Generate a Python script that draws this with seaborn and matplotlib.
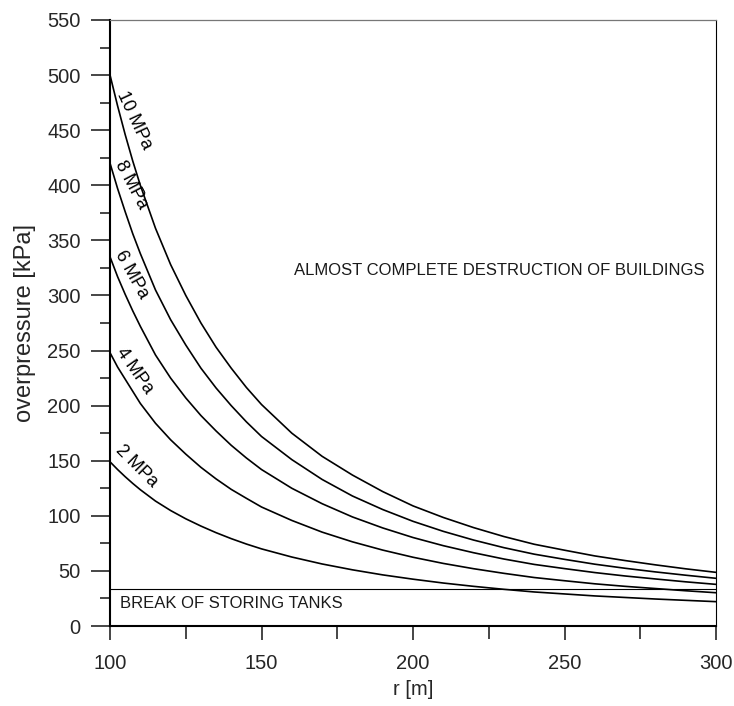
import numpy as np
import pandas as pd
import matplotlib
matplotlib.use("Agg")
import matplotlib.pyplot as plt
from matplotlib.ticker import MultipleLocator
import seaborn as sns

# distance r [m]
r = [100, 102.5, 105, 107.5, 110, 115, 120, 125, 130, 135, 140, 145, 150,
     160, 170, 180, 190, 200, 210, 220, 230, 240, 250, 260, 270, 280, 290, 300]

# overpressure [kPa], one list per tank pressure
p_10 = [500, 472, 446, 422, 400, 361, 328, 300, 275, 253, 234, 216.5, 201,
        175, 154, 137, 122, 109, 98.5, 89.3, 81.2, 74.2, 68.8, 63.6, 59.4, 55.5, 51.9, 48.7]
p_8 = [420, 397, 376, 356, 338, 305, 278, 255, 234, 216, 200, 185.3, 172,
       151, 133, 118, 105.7, 95, 85.9, 78, 71.1, 65.2, 60.5, 56.1, 52.4, 49.1, 46.1, 43.3]
p_6 = [335, 317, 301, 286, 272, 246, 225, 207, 191, 177, 164, 152.5, 142,
       125, 111, 99, 89, 80.3, 72.9, 66.5, 60.8, 55.9, 52.1, 48.5, 45.4, 42.7, 40.1, 37.8]
p_4 = [248, 235, 224, 213, 202, 184, 169, 156, 144, 133.5, 124, 115.9, 108,
       95.8, 85.2, 76.4, 68.9, 62.4, 56.8, 52, 47.8, 44, 41.1, 38.3, 36, 34, 32, 30.2]
p_2 = [149, 142, 135.5, 129.4, 123.7, 113.4, 104.8, 97.3, 90.7, 84.7, 79.3, 74.4, 70,
       62.6, 56.3, 51, 46.4, 42.5, 39, 36, 33.3, 30.9, 29.1, 27.3, 25.9, 24.5, 23.3, 22.1]

labels = ["10 MPa", "8 MPa", "6 MPa", "4 MPa", "2 MPa"]
tank_limit = 34  # kPa, break of storing tanks

series = [p_10, p_8, p_6, p_4, p_2]
df = pd.concat(
    [pd.DataFrame({"r": r, "p": s, "curve": lab}) for lab, s in zip(labels, series)],
    ignore_index=True,
)

sns.set_style("ticks")
plt.rcParams["font.family"] = ["Liberation Sans", "DejaVu Sans"]

fig = plt.figure(figsize=(7.34, 7.06), dpi=100)
ax = fig.add_axes([0.1499, 0.1133, 0.8256, 0.8584])

sns.lineplot(data=df, x="r", y="p", hue="curve", palette=["black"] * 5,
             linewidth=1.2, legend=False, ax=ax, sort=False)

ax.axhline(tank_limit, color="black", linewidth=0.8)

# curve labels, rotated along the start of each curve
label_pos = [(101.2, 481, -65), (100.4, 418, -62), (100.4, 336, -61),
             (101.0, 247, -55), (100.6, 156, -45)]
for lab, (x, y, rot) in zip(labels, label_pos):
    ax.text(x, y, lab, rotation=rot, rotation_mode="anchor",
            ha="left", va="bottom", fontsize=13, color="black")

ax.text(228.5, 323, "ALMOST COMPLETE DESTRUCTION OF BUILDINGS",
        ha="center", va="center", fontsize=12, color="#1a1a1a")
ax.text(103.3, 20, "BREAK OF STORING TANKS",
        ha="left", va="center", fontsize=12, color="#1a1a1a")

ax.set_xlim(100, 300)
ax.set_ylim(0, 550)
ax.xaxis.set_major_locator(MultipleLocator(50))
ax.xaxis.set_minor_locator(MultipleLocator(25))
ax.yaxis.set_major_locator(MultipleLocator(50))
ax.yaxis.set_minor_locator(MultipleLocator(25))

ax.tick_params(axis="y", which="major", direction="out", length=14, width=1.2,
               labelsize=14.5, pad=7)
ax.tick_params(axis="y", which="minor", direction="out", length=7, width=1.2)
ax.tick_params(axis="x", which="major", direction="out", length=10, width=1.2,
               labelsize=14.5, pad=10)
ax.tick_params(axis="x", which="minor", direction="out", length=9, width=1.2)

ax.set_xlabel("r [m]", fontsize=14.5, labelpad=5)
ax.set_ylabel("overpressure [kPa]", fontsize=17)
ax.yaxis.set_label_coords(-0.122, 0.5)

for side in ["left", "bottom"]:
    ax.spines[side].set_linewidth(1.5)
    ax.spines[side].set_color("black")
ax.spines["right"].set_visible(True)
ax.spines["right"].set_linewidth(0.8)
ax.spines["right"].set_color("black")
ax.spines["top"].set_visible(True)
ax.spines["top"].set_linewidth(0.9)
ax.spines["top"].set_color("#777777")

fig.savefig("out.png", dpi=100)
